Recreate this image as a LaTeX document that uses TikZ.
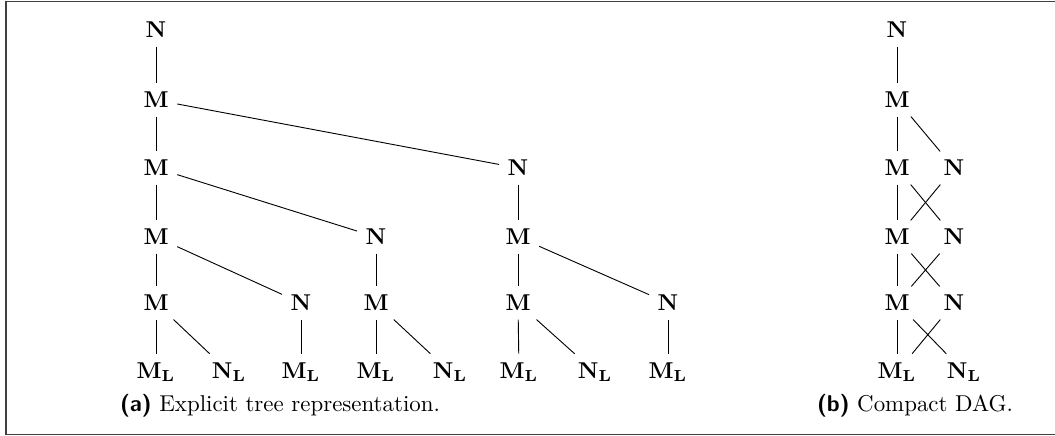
\documentclass[tikz,border=0pt]{standalone}
\begin{document}
\begin{tikzpicture}[x=0.4367pt,y=-0.4367pt,
  tn/.style={inner sep=0.36em,font=\bfseries},
  edge/.style={draw=black,line width=0.4pt},
  frame/.style={draw=black!75,line width=0.6pt}]
\useasboundingbox (0,0) rectangle (1055,436);
\draw[frame] (1070,1.5) -- (6,1.5) -- (6,434.5) -- (1070,434.5);
% tree (a)
\node[tn] (a0) at (156,30) {N};
\node[tn] (a1) at (156,100) {M};
\node[tn] (a2m) at (156,168) {M};
\node[tn] (a2n) at (518,168) {N};
\node[tn] (a3m) at (156,237) {M};
\node[tn] (a3n) at (376,237) {N};
\node[tn] (a3m2) at (518,237) {M};
\node[tn] (a4m) at (156,303) {M};
\node[tn] (a4n) at (301,303) {N};
\node[tn] (a4m2) at (376,303) {M};
\node[tn] (a4m3) at (518,303) {M};
\node[tn] (a4n2) at (668,303) {N};
\node[tn] (l1) at (156,372) {$\mathbf{M}_{\mathbf{L}}$};
\node[tn] (l2) at (229,372) {$\mathbf{N}_{\mathbf{L}}$};
\node[tn] (l3) at (301,372) {$\mathbf{M}_{\mathbf{L}}$};
\node[tn] (l4) at (376,372) {$\mathbf{M}_{\mathbf{L}}$};
\node[tn] (l5) at (450,372) {$\mathbf{N}_{\mathbf{L}}$};
\node[tn] (l6) at (519,372) {$\mathbf{M}_{\mathbf{L}}$};
\node[tn] (l7) at (595,372) {$\mathbf{N}_{\mathbf{L}}$};
\node[tn] (l8) at (668,372) {$\mathbf{M}_{\mathbf{L}}$};
\draw[edge] (a0) -- (a1);
\draw[edge] (a1) -- (a2m);
\draw[edge] (a1) -- (a2n);
\draw[edge] (a2m) -- (a3m);
\draw[edge] (a2m) -- (a3n);
\draw[edge] (a3m) -- (a4m);
\draw[edge] (a3m) -- (a4n);
\draw[edge] (a4m) -- (l1);
\draw[edge] (a4m) -- (l2);
\draw[edge] (a4n) -- (l3);
\draw[edge] (a3n) -- (a4m2);
\draw[edge] (a4m2) -- (l4);
\draw[edge] (a4m2) -- (l5);
\draw[edge] (a2n) -- (a3m2);
\draw[edge] (a3m2) -- (a4m3);
\draw[edge] (a3m2) -- (a4n2);
\draw[edge] (a4m3) -- (l6);
\draw[edge] (a4m3) -- (l7);
\draw[edge] (a4n2) -- (l8);
\node (capa) at (280,406) {{\sffamily\bfseries (a)} Explicit tree representation.};
% DAG (b)
\node[tn] (b0) at (897,30) {N};
\node[tn] (b1) at (897,100) {M};
\node[tn] (b2m) at (897,168) {M};
\node[tn] (b2n) at (954,168) {N};
\node[tn] (b3m) at (897,237) {M};
\node[tn] (b3n) at (954,237) {N};
\node[tn] (b4m) at (897,303) {M};
\node[tn] (b4n) at (954,303) {N};
\node[tn] (bl1) at (897,372) {$\mathbf{M}_{\mathbf{L}}$};
\node[tn] (bl2) at (964,372) {$\mathbf{N}_{\mathbf{L}}$};
\draw[edge] (b0) -- (b1);
\draw[edge] (b1) -- (b2m);
\draw[edge] (b1) -- (b2n);
\draw[edge] (b2m) -- (b3m);
\draw[edge] (b2m) -- (b3n);
\draw[edge] (b2n) -- (b3m);
\draw[edge] (b3m) -- (b4m);
\draw[edge] (b3m) -- (b4n);
\draw[edge] (b3n) -- (b4m);
\draw[edge] (b4m) -- (bl1);
\draw[edge] (b4m) -- (bl2);
\draw[edge] (b4n) -- (bl1);
\node (capb) at (915,406) {{\sffamily\bfseries (b)} Compact DAG.};
\end{tikzpicture}
\end{document}
